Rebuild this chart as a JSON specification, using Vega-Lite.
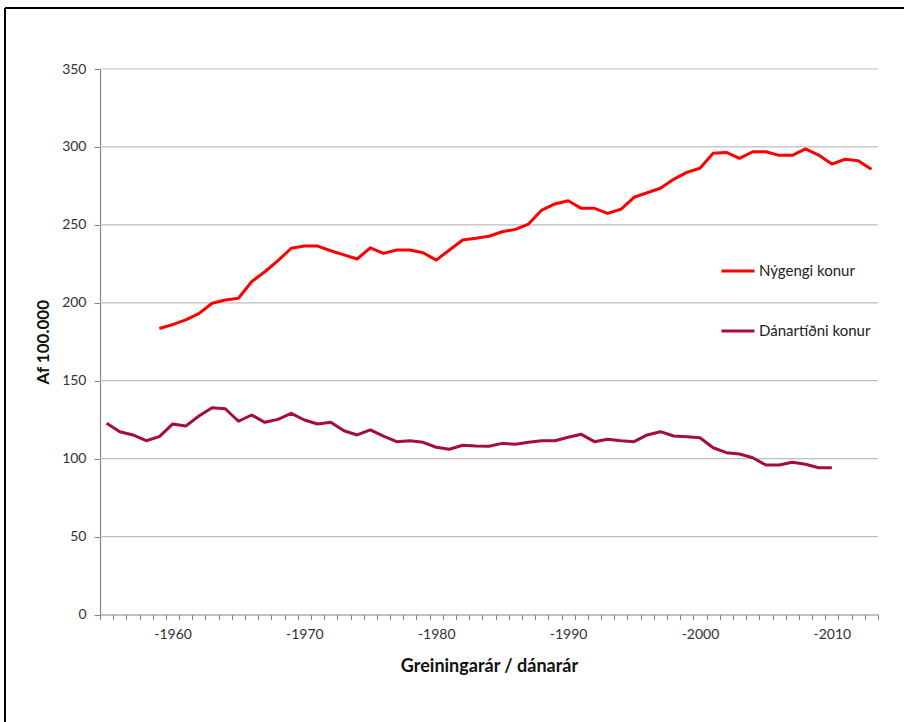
{
  "$schema": "https://vega.github.io/schema/vega-lite/v6.json",
  "width": 899,
  "height": 714,
  "autosize": {"type": "none"},
  "padding": {"left": 5, "top": 8, "right": 0, "bottom": 0},
  "background": "white",
  "config": {
    "view": {"stroke": "black", "strokeWidth": 2, "strokeDash": [899, 1613, 714, 0]},
    "font": "Lato"
  },
  "datasets": {
    "grid": [{"grid": 50}, {"grid": 100}, {"grid": 150}, {"grid": 200}, {"grid": 250}, {"grid": 300}, {"grid": 350}],
    "series": [
      {"year": 1959, "series": "Nýgengi konur", "value": 183.5},
      {"year": 1960, "series": "Nýgengi konur", "value": 186},
      {"year": 1961, "series": "Nýgengi konur", "value": 189},
      {"year": 1962, "series": "Nýgengi konur", "value": 193},
      {"year": 1963, "series": "Nýgengi konur", "value": 199.7},
      {"year": 1964, "series": "Nýgengi konur", "value": 201.8},
      {"year": 1965, "series": "Nýgengi konur", "value": 202.9},
      {"year": 1966, "series": "Nýgengi konur", "value": 213.5},
      {"year": 1967, "series": "Nýgengi konur", "value": 219.9},
      {"year": 1968, "series": "Nýgengi konur", "value": 227},
      {"year": 1969, "series": "Nýgengi konur", "value": 235},
      {"year": 1970, "series": "Nýgengi konur", "value": 236.4},
      {"year": 1971, "series": "Nýgengi konur", "value": 236.4},
      {"year": 1972, "series": "Nýgengi konur", "value": 233.4},
      {"year": 1973, "series": "Nýgengi konur", "value": 230.7},
      {"year": 1974, "series": "Nýgengi konur", "value": 228.1},
      {"year": 1975, "series": "Nýgengi konur", "value": 235.3},
      {"year": 1976, "series": "Nýgengi konur", "value": 231.7},
      {"year": 1977, "series": "Nýgengi konur", "value": 233.9},
      {"year": 1978, "series": "Nýgengi konur", "value": 233.9},
      {"year": 1979, "series": "Nýgengi konur", "value": 232.1},
      {"year": 1980, "series": "Nýgengi konur", "value": 227.4},
      {"year": 1981, "series": "Nýgengi konur", "value": 233.9},
      {"year": 1982, "series": "Nýgengi konur", "value": 240.3},
      {"year": 1983, "series": "Nýgengi konur", "value": 241.4},
      {"year": 1984, "series": "Nýgengi konur", "value": 242.7},
      {"year": 1985, "series": "Nýgengi konur", "value": 245.6},
      {"year": 1986, "series": "Nýgengi konur", "value": 247.1},
      {"year": 1987, "series": "Nýgengi konur", "value": 250.5},
      {"year": 1988, "series": "Nýgengi konur", "value": 259.5},
      {"year": 1989, "series": "Nýgengi konur", "value": 263.4},
      {"year": 1990, "series": "Nýgengi konur", "value": 265.5},
      {"year": 1991, "series": "Nýgengi konur", "value": 260.6},
      {"year": 1992, "series": "Nýgengi konur", "value": 260.6},
      {"year": 1993, "series": "Nýgengi konur", "value": 257.4},
      {"year": 1994, "series": "Nýgengi konur", "value": 260},
      {"year": 1995, "series": "Nýgengi konur", "value": 267.7},
      {"year": 1996, "series": "Nýgengi konur", "value": 270.6},
      {"year": 1997, "series": "Nýgengi konur", "value": 273.5},
      {"year": 1998, "series": "Nýgengi konur", "value": 279.2},
      {"year": 1999, "series": "Nýgengi konur", "value": 283.7},
      {"year": 2000, "series": "Nýgengi konur", "value": 286.3},
      {"year": 2001, "series": "Nýgengi konur", "value": 295.9},
      {"year": 2002, "series": "Nýgengi konur", "value": 296.5},
      {"year": 2003, "series": "Nýgengi konur", "value": 292.7},
      {"year": 2004, "series": "Nýgengi konur", "value": 296.9},
      {"year": 2005, "series": "Nýgengi konur", "value": 296.9},
      {"year": 2006, "series": "Nýgengi konur", "value": 294.6},
      {"year": 2007, "series": "Nýgengi konur", "value": 294.6},
      {"year": 2008, "series": "Nýgengi konur", "value": 298.7},
      {"year": 2009, "series": "Nýgengi konur", "value": 294.8},
      {"year": 2010, "series": "Nýgengi konur", "value": 289},
      {"year": 2011, "series": "Nýgengi konur", "value": 292.1},
      {"year": 2012, "series": "Nýgengi konur", "value": 291.2},
      {"year": 2013, "series": "Nýgengi konur", "value": 285.6},
      {"year": 1955, "series": "Dánartíðni konur", "value": 122.7},
      {"year": 1956, "series": "Dánartíðni konur", "value": 117.3},
      {"year": 1957, "series": "Dánartíðni konur", "value": 115.2},
      {"year": 1958, "series": "Dánartíðni konur", "value": 111.5},
      {"year": 1959, "series": "Dánartíðni konur", "value": 114.1},
      {"year": 1960, "series": "Dánartíðni konur", "value": 122.2},
      {"year": 1961, "series": "Dánartíðni konur", "value": 120.9},
      {"year": 1962, "series": "Dánartíðni konur", "value": 127.4},
      {"year": 1963, "series": "Dánartíðni konur", "value": 132.7},
      {"year": 1964, "series": "Dánartíðni konur", "value": 132},
      {"year": 1965, "series": "Dánartíðni konur", "value": 124},
      {"year": 1966, "series": "Dánartíðni konur", "value": 128},
      {"year": 1967, "series": "Dánartíðni konur", "value": 123.3},
      {"year": 1968, "series": "Dánartíðni konur", "value": 125.2},
      {"year": 1969, "series": "Dánartíðni konur", "value": 129.1},
      {"year": 1970, "series": "Dánartíðni konur", "value": 124.8},
      {"year": 1971, "series": "Dánartíðni konur", "value": 122.2},
      {"year": 1972, "series": "Dánartíðni konur", "value": 123.3},
      {"year": 1973, "series": "Dánartíðni konur", "value": 117.9},
      {"year": 1974, "series": "Dánartíðni konur", "value": 115.2},
      {"year": 1975, "series": "Dánartíðni konur", "value": 118.4},
      {"year": 1976, "series": "Dánartíðni konur", "value": 114.5},
      {"year": 1977, "series": "Dánartíðni konur", "value": 110.9},
      {"year": 1978, "series": "Dánartíðni konur", "value": 111.5},
      {"year": 1979, "series": "Dánartíðni konur", "value": 110.5},
      {"year": 1980, "series": "Dánartíðni konur", "value": 107.3},
      {"year": 1981, "series": "Dánartíðni konur", "value": 106},
      {"year": 1982, "series": "Dánartíðni konur", "value": 108.6},
      {"year": 1983, "series": "Dánartíðni konur", "value": 108.1},
      {"year": 1984, "series": "Dánartíðni konur", "value": 108},
      {"year": 1985, "series": "Dánartíðni konur", "value": 109.8},
      {"year": 1986, "series": "Dánartíðni konur", "value": 109.2},
      {"year": 1987, "series": "Dánartíðni konur", "value": 110.5},
      {"year": 1988, "series": "Dánartíðni konur", "value": 111.5},
      {"year": 1989, "series": "Dánartíðni konur", "value": 111.5},
      {"year": 1990, "series": "Dánartíðni konur", "value": 113.7},
      {"year": 1991, "series": "Dánartíðni konur", "value": 115.6},
      {"year": 1992, "series": "Dánartíðni konur", "value": 110.9},
      {"year": 1993, "series": "Dánartíðni konur", "value": 112.4},
      {"year": 1994, "series": "Dánartíðni konur", "value": 111.5},
      {"year": 1995, "series": "Dánartíðni konur", "value": 110.9},
      {"year": 1996, "series": "Dánartíðni konur", "value": 115.2},
      {"year": 1997, "series": "Dánartíðni konur", "value": 117.3},
      {"year": 1998, "series": "Dánartíðni konur", "value": 114.5},
      {"year": 1999, "series": "Dánartíðni konur", "value": 114.1},
      {"year": 2000, "series": "Dánartíðni konur", "value": 113.4},
      {"year": 2001, "series": "Dánartíðni konur", "value": 107},
      {"year": 2002, "series": "Dánartíðni konur", "value": 103.8},
      {"year": 2003, "series": "Dánartíðni konur", "value": 103},
      {"year": 2004, "series": "Dánartíðni konur", "value": 100.6},
      {"year": 2005, "series": "Dánartíðni konur", "value": 95.9},
      {"year": 2006, "series": "Dánartíðni konur", "value": 95.9},
      {"year": 2007, "series": "Dánartíðni konur", "value": 97.7},
      {"year": 2008, "series": "Dánartíðni konur", "value": 96.4},
      {"year": 2009, "series": "Dánartíðni konur", "value": 94.2},
      {"year": 2010, "series": "Dánartíðni konur", "value": 94.2}
    ]
  },
  "layer": [
    {
      "data": {"name": "grid"},
      "mark": {"type": "rule", "color": "#BEBEBE", "strokeWidth": 1.2},
      "encoding": {
        "x": {"datum": 1954.5, "type": "quantitative"},
        "x2": {"datum": 2013.5},
        "y": {"field": "grid", "type": "quantitative"}
      }
    },
    {
      "data": {"name": "series"},
      "mark": {"type": "line", "strokeWidth": 3, "strokeJoin": "round"},
      "encoding": {
        "x": {
          "field": "year",
          "type": "quantitative",
          "scale": {"domain": [1954.5, 2013.5], "range": [95, 873], "nice": false, "zero": false},
          "axis": {
            "values": [1954.5,1955.5,1956.5,1957.5,1958.5,1959.5,1960.5,1961.5,1962.5,1963.5,1964.5,1965.5,1966.5,1967.5,1968.5,1969.5,1970.5,1971.5,1972.5,1973.5,1974.5,1975.5,1976.5,1977.5,1978.5,1979.5,1980.5,1981.5,1982.5,1983.5,1984.5,1985.5,1986.5,1987.5,1988.5,1989.5,1990.5,1991.5,1992.5,1993.5,1994.5,1995.5,1996.5,1997.5,1998.5,1999.5,2000.5,2001.5,2002.5,2003.5,2004.5,2005.5,2006.5,2007.5,2008.5,2009.5,2010.5,2011.5,2012.5,2013.5],
            "tickCount": 200,
            "labelExpr": "(datum.value + 0.5) % 10 == 0 ? '-' + (datum.value + 0.5) : ''",
            "labelOffset": 6.6,
            "labelOverlap": false,
            "labelBound": false,
            "labelFlush": false,
            "offset": -107.5,
            "grid": false,
            "domainColor": "#868686",
            "domainWidth": 1.2,
            "tickColor": "#868686",
            "tickSize": 5,
            "labelFontSize": 14,
            "labelColor": "#333333",
            "labelPadding": 8,
            "title": "Greiningarár / dánarár",
            "titleFontSize": 18,
            "titleFontWeight": "bold",
            "titleColor": "#111111",
            "titlePadding": 16
          }
        },
        "y": {
          "field": "value",
          "type": "quantitative",
          "scale": {"domain": [0, 350], "range": [606.5, 61], "nice": false, "zero": true},
          "axis": {
            "values": [0, 50, 100, 150, 200, 250, 300, 350],
            "tickCount": 200,
            "offset": -95,
            "grid": false,
            "domainColor": "#868686",
            "domainWidth": 1.2,
            "tickColor": "#868686",
            "tickSize": 6,
            "labelFontSize": 14,
            "labelColor": "#333333",
            "labelPadding": 8,
            "title": "Af 100.000",
            "titleFontSize": 17,
            "titleFontWeight": "bold",
            "titleColor": "#111111",
            "titlePadding": 9
          }
        },
        "color": {
          "field": "series",
          "type": "nominal",
          "scale": {"domain": ["Nýgengi konur", "Dánartíðni konur"], "range": ["#FF0000", "#A50D3C"]},
          "legend": {
            "orient": "none",
            "legendX": 715,
            "legendY": 245,
            "title": null,
            "padding": 0,
            "symbolType": "stroke",
            "symbolSize": 1089,
            "symbolStrokeWidth": 3,
            "labelFontSize": 15,
            "labelColor": "#222222",
            "labelOffset": 3,
            "rowPadding": 34
          }
        }
      }
    }
  ]
}
